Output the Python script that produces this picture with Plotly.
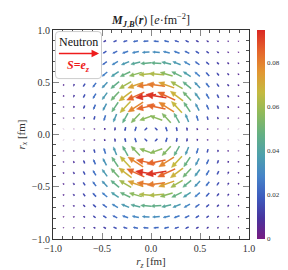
import numpy as np
import plotly.graph_objects as go
from plotly.colors import sample_colorscale

# Grid positions (one quadrant; the field is mirrored into the other three quadrants)
GRID_Q = [0.0525, 0.1575, 0.2625, 0.3675, 0.4725, 0.5775, 0.6825, 0.7875, 0.8925]

# Upper-right quadrant (r_z>0, r_x>0); rows: r_x = GRID_Q[i], columns: r_z = GRID_Q[j]
MZ_Q = [
    [-0.0111, -0.0060, -0.0033, -0.0019, -0.0010, -0.0005, -0.0003, -0.0001, -0.0001],
    [-0.0544, -0.0387, -0.0242, -0.0143, -0.0076, -0.0041, -0.0022, -0.0012, -0.0006],
    [-0.0832, -0.0672, -0.0466, -0.0286, -0.0162, -0.0092, -0.0051, -0.0028, -0.0016],
    [-0.0913, -0.0777, -0.0561, -0.0362, -0.0223, -0.0133, -0.0076, -0.0044, -0.0025],
    [-0.0794, -0.0687, -0.0525, -0.0369, -0.0243, -0.0150, -0.0091, -0.0054, -0.0032],
    [-0.0617, -0.0551, -0.0443, -0.0329, -0.0225, -0.0147, -0.0094, -0.0057, -0.0035],
    [-0.0459, -0.0418, -0.0345, -0.0264, -0.0189, -0.0131, -0.0086, -0.0055, -0.0034],
    [-0.0322, -0.0295, -0.0252, -0.0201, -0.0151, -0.0107, -0.0074, -0.0048, -0.0032],
    [-0.0224, -0.0209, -0.0180, -0.0146, -0.0113, -0.0084, -0.0059, -0.0041, -0.0029],
]
MX_Q = [
    [0.0111, 0.0181, 0.0166, 0.0130, 0.0088, 0.0056, 0.0035, 0.0021, 0.0013],
    [0.0181, 0.0387, 0.0403, 0.0333, 0.0229, 0.0150, 0.0096, 0.0059, 0.0037],
    [0.0166, 0.0403, 0.0466, 0.0401, 0.0292, 0.0202, 0.0133, 0.0084, 0.0053],
    [0.0130, 0.0333, 0.0401, 0.0362, 0.0287, 0.0209, 0.0142, 0.0094, 0.0060],
    [0.0088, 0.0229, 0.0292, 0.0287, 0.0243, 0.0184, 0.0131, 0.0090, 0.0060],
    [0.0056, 0.0150, 0.0202, 0.0209, 0.0184, 0.0147, 0.0111, 0.0078, 0.0054],
    [0.0035, 0.0096, 0.0133, 0.0142, 0.0131, 0.0111, 0.0086, 0.0064, 0.0045],
    [0.0021, 0.0059, 0.0084, 0.0094, 0.0090, 0.0078, 0.0064, 0.0048, 0.0036],
    [0.0013, 0.0037, 0.0053, 0.0060, 0.0060, 0.0054, 0.0045, 0.0036, 0.0029],
]

CBAR_MAX = 0.095
CBAR_TICKS = [0, 0.02, 0.04, 0.06, 0.08]
CBAR_TICKTEXT = ["0", "0.02", "0.04", "0.06", "0.08"]
AXIS_TICKS = [-1.0, -0.5, 0.0, 0.5, 1.0]

RAINBOW = [
    [0.0, "rgb(120,28,129)"],
    [0.1, "rgb(72,52,158)"],
    [0.2, "rgb(62,92,190)"],
    [0.3, "rgb(70,132,200)"],
    [0.4, "rgb(78,160,172)"],
    [0.5, "rgb(100,176,132)"],
    [0.6, "rgb(142,186,92)"],
    [0.7, "rgb(196,186,64)"],
    [0.8, "rgb(226,150,50)"],
    [0.9, "rgb(229,100,44)"],
    [1.0, "rgb(218,40,35)"],
]

# Expand quadrant to full field
pts = []
for sx in (-1, 1):
    for sz in (-1, 1):
        for i, gx in enumerate(GRID_Q):
            for j, gz in enumerate(GRID_Q):
                pts.append((sz * gz, sx * gx, MZ_Q[i][j], sx * sz * MX_Q[i][j]))

SCALE = 2.3
NB = 48
bins = {}
for (z, x, mz, mx) in pts:
    m = np.hypot(mz, mx)
    b = int(round(min(m / CBAR_MAX, 1.0) * (NB - 1)))
    vz, vx = SCALE * mz, SCALE * mx
    L = np.hypot(vz, vx)
    if L == 0:
        continue
    uz, ux = vz / L, vx / L
    nz, nx = -ux, uz
    tz, tx = z - vz / 2, x - vx / 2
    hz, hx = z + vz / 2, x + vx / 2
    hl, hw = 0.34 * L, 0.15 * L
    bz, bx = hz - hl * uz, hx - hl * ux
    d = bins.setdefault(b, {"sx": [], "sy": [], "hx": [], "hy": []})
    d["sx"] += [tz, bz + 0.3 * hl * uz, None]
    d["sy"] += [tx, bx + 0.3 * hl * ux, None]
    d["hx"] += [hz, bz + hw * nz, bz - hw * nz, hz, None]
    d["hy"] += [hx, bx + hw * nx, bx - hw * nx, hx, None]

fig = go.Figure()
for b in sorted(bins):
    col = sample_colorscale(RAINBOW, b / (NB - 1))[0]
    d = bins[b]
    fig.add_trace(go.Scatter(x=d["sx"], y=d["sy"], mode="lines",
                             line=dict(color=col, width=1.5), hoverinfo="skip", showlegend=False))
    fig.add_trace(go.Scatter(x=d["hx"], y=d["hy"], mode="lines", fill="toself",
                             fillcolor=col, line=dict(color=col, width=0.5),
                             hoverinfo="skip", showlegend=False))

SERIF = "Liberation Serif"

# colorbar carrier
fig.add_trace(go.Scatter(
    x=[None], y=[None], mode="markers", showlegend=False, hoverinfo="skip",
    marker=dict(color=[0], cmin=0, cmax=CBAR_MAX, colorscale=RAINBOW, showscale=True,
                colorbar=dict(x=1.012, xanchor="left", y=0.5, yanchor="middle", len=1.0,
                              lenmode="fraction", thickness=8, outlinewidth=0,
                              tickvals=CBAR_TICKS, ticktext=CBAR_TICKTEXT, ticks="",
                              tickfont=dict(family=SERIF, size=7, color="#333"),
                              ypad=0, xpad=6))))

axis_common = dict(range=[-1, 1], tickvals=AXIS_TICKS, tickformat=".1f",
                   ticks="inside", ticklen=6, tickcolor="#888", tickwidth=1.2,
                   showline=True, linecolor="#333", linewidth=1, mirror="allticks",
                   showgrid=False, zeroline=False,
                   minor=dict(dtick=0.1, ticks="inside", ticklen=3, tickcolor="#555", tickwidth=0.8),
                   tickfont=dict(family=SERIF, size=10, color="#333"))

fig.update_layout(
    width=288, height=270,
    margin=dict(l=41, r=31, t=22, b=34),
    paper_bgcolor="white", plot_bgcolor="white",
    title=dict(text="<b><i>M</i></b><sub><b><i>J</i></b>,<b><i>B</i></b></sub>(<b><i>r</i></b>) [<i>e</i>·fm<sup>−2</sup>]",
               x=0.5, xref="paper", xanchor="center", y=0.955, yref="container", yanchor="middle",
               font=dict(family=SERIF, size=12, color="#222")),
    xaxis=dict(**axis_common, title=dict(text="<i>r</i><sub><i>z</i></sub> [fm]", standoff=4,
                                         font=dict(family=SERIF, size=11, color="#333"))),
    yaxis=dict(**axis_common, title=dict(text="<i>r</i><sub><i>x</i></sub> [fm]", standoff=4,
                                         font=dict(family=SERIF, size=11, color="#333"))),
)

# legend box
x0, x1, y0, y1, rr = -0.975, -0.505, 0.535, 0.985, 0.035
path = (f"M {x0+rr},{y0} L {x1-rr},{y0} Q {x1},{y0} {x1},{y0+rr} L {x1},{y1-rr} "
        f"Q {x1},{y1} {x1-rr},{y1} L {x0+rr},{y1} Q {x0},{y1} {x0},{y1-rr} "
        f"L {x0},{y0+rr} Q {x0},{y0} {x0+rr},{y0} Z")
fig.add_shape(type="path", path=path, xref="x", yref="y", layer="above",
              fillcolor="white", line=dict(color="#cccccc", width=1))

fig.add_annotation(x=-0.74, y=0.885, xref="x", yref="y", text="Neutron", showarrow=False,
                   font=dict(family=SERIF, size=12, color="#111"))
fig.add_annotation(x=-0.53, y=0.775, ax=-0.955, ay=0.775, xref="x", yref="y", axref="x", ayref="y",
                   text="", showarrow=True, arrowhead=2, arrowsize=1, arrowwidth=1.5,
                   arrowcolor="#ee1c1c")
fig.add_annotation(x=-0.74, y=0.655, xref="x", yref="y",
                   text="<b><i>S</i>=<i>e</i><sub><i>z</i></sub></b>", showarrow=False,
                   font=dict(family=SERIF, size=12, color="#ee1c1c"))

fig.write_html("out.html")
